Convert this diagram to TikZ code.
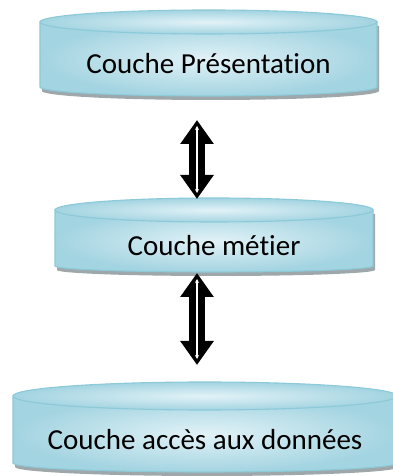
\documentclass[tikz,border=0pt]{standalone}
\usepackage{fontspec}
\setmainfont{Carlito}[Ligatures=NoCommon]
\usetikzlibrary{arrows.meta}

\definecolor{bordcouche}{HTML}{8CC9D9}
\definecolor{clair}{HTML}{E2F2F7}
\definecolor{fonce}{HTML}{A3D4E1}
\definecolor{ombre}{HTML}{9EA8AB}

\tikzset{
  bord/.style={draw=bordcouche, line width=1.1pt},
  corps/.style={bord, inner color=clair, outer color=fonce},
  ombrage/.style={fill=ombre},
  texte/.style={font=\fontsize{29}{33}\selectfont, text=black},
  fleche/.style={line width=16pt,
    {Triangle[length=24pt,width=32pt]}-{Triangle[length=24pt,width=32pt]}},
  filet/.style={white, line width=1.2pt,
    {Stealth[length=4pt,width=4pt]}-{Stealth[length=4pt,width=4pt]},
    shorten <=6pt, shorten >=6pt}
}

% #1 nom, #2 centre x, #3 rayon x, #4 centre haut, #5 rayon haut,
% #6 bas, #7 rayon bas, #8 texte
\newcommand{\couche}[8]{%
  \fill[ombrage, shift={(2,-4)}] (#2-#3,#4) -- (#2-#3,#6)
    arc[start angle=180, end angle=360, x radius=#3, y radius=#7]
    -- (#2+#3,#4) -- cycle;
  \path[corps] (#2-#3,#4) -- (#2-#3,#6)
    arc[start angle=180, end angle=360, x radius=#3, y radius=#7]
    -- (#2+#3,#4) -- cycle;
  \path[corps] (#2,#4) ellipse[x radius=#3, y radius=#5];
  \node[texte] (#1) at (#2,{(#4-#5+#6-#7)/2+1}) {#8};
}

\begin{document}
\begin{tikzpicture}[x=1pt,y=1pt]
   \useasboundingbox (0,0) rectangle (393,476);

   \couche{pres}{208.5}{168.5}{454}{12}{389}{9}{Couche Présentation}
   \couche{metier}{214}{159}{266}{12}{210}{6}{Couche métier}
   \couche{donnees}{205}{192}{80}{14}{13}{9}{Couche accès aux données}

   \coordinate (pres-bas) at (197,356);
   \coordinate (metier-haut) at (197,277);
   \coordinate (metier-bas) at (197,203);
   \coordinate (donnees-haut) at (197,111);

   \draw[fleche] (pres-bas) -- (metier-haut);
   \draw[filet] (pres-bas) -- (metier-haut);
   \draw[fleche] (metier-bas) -- (donnees-haut);
   \draw[filet] (metier-bas) -- (donnees-haut);
\end{tikzpicture}
\end{document}
